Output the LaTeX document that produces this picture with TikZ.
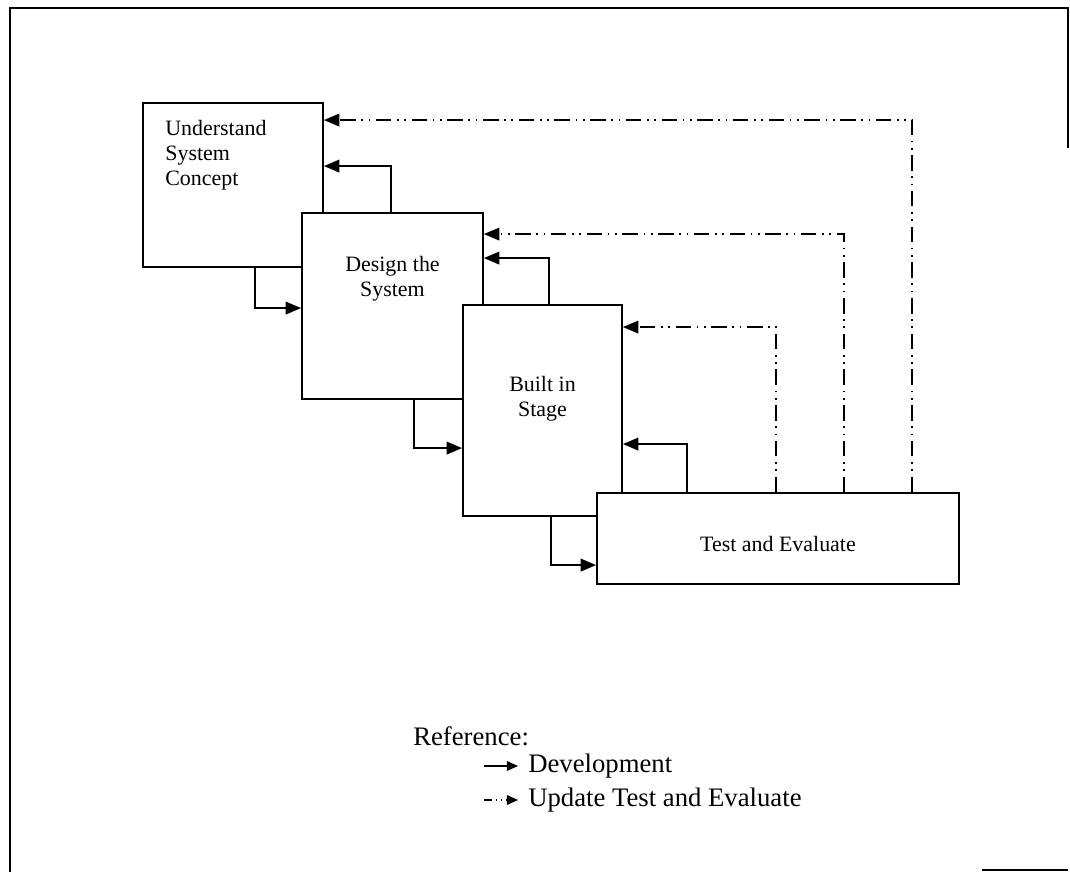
\documentclass[tikz,border=0pt]{standalone}
\usepackage{fontspec}
\setmainfont{Liberation Serif}
\usetikzlibrary{arrows.meta, positioning, calc}

\begin{document}
\begin{tikzpicture}[>={Triangle[length=11pt, width=9pt]}]
  % --- STYLE DEFINITIONS ---
  \tikzstyle{stage}=[rectangle, draw=black, fill=white, line width=1.3pt, inner sep=0pt]
  \tikzstyle{stagetext}=[inner sep=0pt, font=\fontsize{15.6}{17.8}\selectfont]
  \tikzstyle{dev}=[->, line width=1.3pt]
  \tikzstyle{update}=[->, line width=1.1pt, dash pattern=on 11pt off 4pt on 1.2pt off 4pt on 1.2pt off 4pt]
  \tikzstyle{legtext}=[anchor=west, inner sep=0pt, font=\fontsize{19}{22}\selectfont]
  \tikzstyle{legarrow}=[-{Triangle[length=8pt, width=7pt]}, line width=0.8pt]

  % --- PAGE FRAME ---
  \useasboundingbox (0,0) rectangle (26.75,21.8);
  \draw[line width=0.8pt] (0.25,0) -- (0.25,21.6) -- (26.7,21.6) -- (26.7,18.1);
  \draw[line width=0.8pt] (24.55,0.05) -- (26.7,0.05);

  % =================================================================
  % STAGES (each one laid over the one before)
  % =================================================================
  \node[stage, minimum width=4.5cm, minimum height=4.1cm] (und) at (5.825,17.175) {};
  \node[stagetext, anchor=north west, align=left] (undtxt) at ([shift={(0.575,-0.45)}]und.north west) {Understand\\System\\Concept};

  \node[stage, minimum width=4.525cm, minimum height=4.65cm] (dsg) at (9.8125,14.15) {};
  \node[stagetext, anchor=north, align=center] (dsgtxt) at ([yshift=-1.1cm]dsg.north) {Design the\\System};

  \node[stage, minimum width=3.975cm, minimum height=5.275cm] (blt) at (13.5625,11.5375) {};
  \node[stagetext, anchor=north, align=center] (blttxt) at ([yshift=-1.8cm]blt.north) {Built in\\Stage};

  \node[stage, minimum width=9.05cm, minimum height=2.275cm] (tst) at (19.45,8.3375) {};
  \node[stagetext] (tsttxt) at ([yshift=-0.15cm]tst.center) {Test and Evaluate};

  % =================================================================
  % DEVELOPMENT (down to the next stage, back up to the last one)
  % =================================================================
  \draw[dev] ([xshift=2.825cm]und.south west) |- ([yshift=-2.4cm]dsg.north west);
  \draw[dev] ([xshift=2.825cm]dsg.south west) |- ([yshift=-3.6cm]blt.north west);
  \draw[dev] ([xshift=2.225cm]blt.south west) |- ([yshift=-1.825cm]tst.north west);

  \draw[dev] ([xshift=2.25cm]dsg.north west) |- ([yshift=-1.6cm]und.north east);
  \draw[dev] ([xshift=2.175cm]blt.north west) |- ([yshift=-1.15cm]dsg.north east);
  \draw[dev] ([xshift=2.275cm]tst.north west) |- ([yshift=-3.5cm]blt.north east);

  % =================================================================
  % UPDATE TEST AND EVALUATE (from the last stage to every stage)
  % =================================================================
  \draw[update] ([xshift=4.5cm]tst.north west) |- ([yshift=-0.575cm]blt.north east);
  \draw[update] ([xshift=6.2cm]tst.north west) |- ([yshift=-0.55cm]dsg.north east);
  \draw[update] ([xshift=7.9cm]tst.north west) |- ([yshift=-0.45cm]und.north east);

  % =================================================================
  % LEGEND
  % =================================================================
  \node[legtext] (ref) at (10.325,3.4) {Reference:};
  \coordinate (devA) at (12.1,2.65);
  \coordinate (devB) at (12.95,2.65);
  \draw[legarrow] (devA) -- (devB);
  \node[legtext, right=0.25cm of devB] (devlbl) {Development};

  \coordinate (updA) at (12.1,1.8);
  \coordinate (updB) at (12.95,1.8);
  \draw[legarrow, dash pattern=on 6pt off 2.5pt on 1pt off 2.5pt on 1pt off 2.5pt] (updA) -- (updB);
  \node[legtext, right=0.25cm of updB] (updlbl) {Update Test and Evaluate};

\end{tikzpicture}
\end{document}
